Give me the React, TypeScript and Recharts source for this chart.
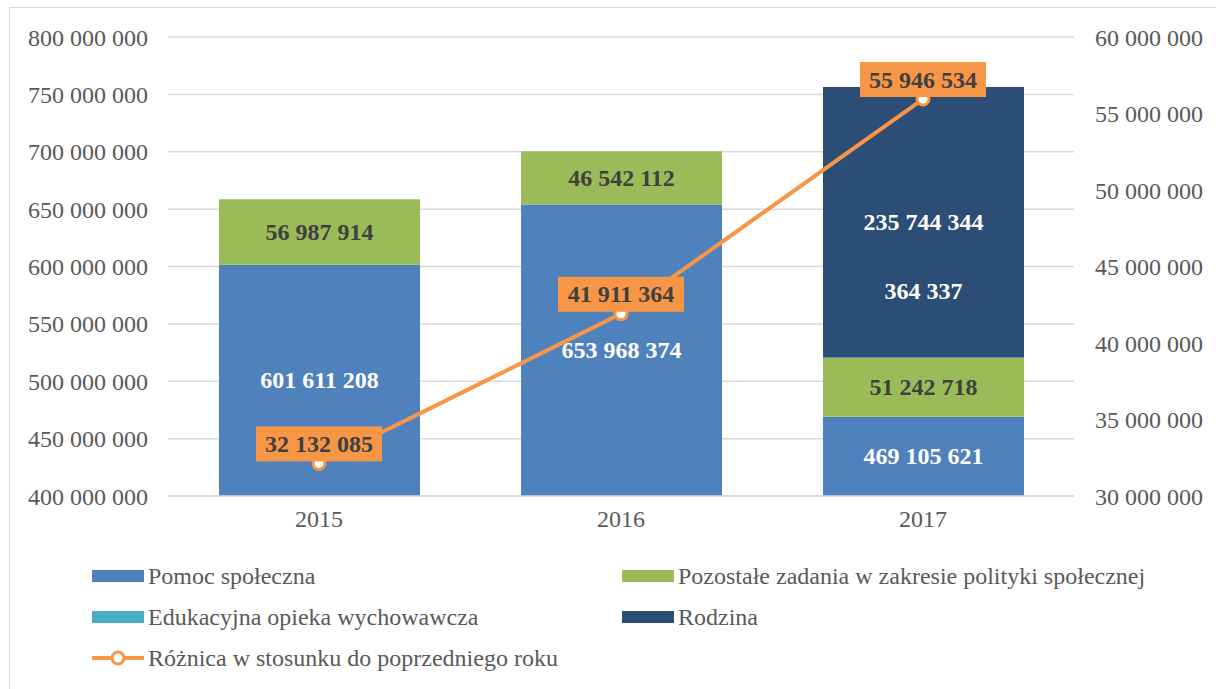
import { ComposedChart, Bar, Line, XAxis, YAxis, CartesianGrid, LabelList } from 'recharts';

const lata = ['2015', '2016', '2017'];
const pomocSpoleczna = [601611208, 653968374, 469105621];
const pozostaleZadania = [56987914, 46542112, 51242718];
const edukacyjnaOpieka = [0, 0, 364337];
const rodzina = [0, 0, 235744344];
const roznica = [32132085, 41911364, 55946534];

const lewaOs = [400000000, 450000000, 500000000, 550000000, 600000000, 650000000, 700000000, 750000000, 800000000];
const prawaOs = [30000000, 35000000, 40000000, 45000000, 50000000, 55000000, 60000000];

const dane = lata.map((rok, i) => ({
  rok,
  pomoc: pomocSpoleczna[i],
  pozostale: pozostaleZadania[i],
  edukacyjna: edukacyjnaOpieka[i],
  rodzina: rodzina[i],
  roznica: roznica[i],
}));

const FONT = '"Liberation Serif", "Times New Roman", serif';
const PLOT_BOTTOM = 496;

const fmt = (v: number) => String(Math.round(v)).replace(/\B(?=(\d{3})+(?!\d))/g, ' ');

// etykieta w środku widocznej części słupka
const barLabel = (color: string) => (props: unknown) => {
  const { x, y, width, height, value } = props as { x: number; y: number; width: number; height: number; value: number };
  if (!value || Number(value) < 1000000) return null;
  const bottom = Math.min(y + height, PLOT_BOTTOM);
  const cy = (y + bottom) / 2;
  return (
    <text x={x + width / 2} y={cy} fill={color} textAnchor="middle" dominantBaseline="central"
      fontSize={24} fontWeight="bold" fontFamily={FONT}>
      {fmt(value)}
    </text>
  );
};

// Rodzina + mała wartość edukacyjnej opieki pod spodem
const rodzinaLabel = (props: unknown) => {
  const { x, y, width, height, value } = props as { x: number; y: number; width: number; height: number; value: number };
  if (!value) return null;
  const cy = Number(y) + Number(height) / 2;
  const cx = Number(x) + Number(width) / 2;
  const idx = rodzina.indexOf(Number(value));
  const edu = idx >= 0 ? edukacyjnaOpieka[idx] : 0;
  return (
    <g>
      <text x={cx} y={cy} fill="#fff" textAnchor="middle" dominantBaseline="central"
        fontSize={24} fontWeight="bold" fontFamily={FONT}>
        {fmt(value)}
      </text>
      {edu > 0 && (
        <text x={cx} y={cy + 69} fill="#fff" textAnchor="middle" dominantBaseline="central"
          fontSize={24} fontWeight="bold" fontFamily={FONT}>
          {fmt(edu)}
        </text>
      )}
    </g>
  );
};

const lineLabel = (props: unknown) => {
  const { x, y, value } = props as { x: number; y: number; value: number };
  const w = 126;
  const h = 35;
  return (
    <g>
      <rect x={x - w / 2} y={y - h - 2} width={w} height={h} fill="#F79646" />
      <text x={x} y={y - h / 2 - 2} fill="#404040" textAnchor="middle" dominantBaseline="central"
        fontSize={24} fontWeight="bold" fontFamily={FONT}>
        {fmt(value)}
      </text>
    </g>
  );
};

const legenda = [
  { name: 'Pomoc społeczna', color: '#4F81BD', x: 92, y: 576, type: 'rect' },
  { name: 'Pozostałe zadania w zakresie polityki społecznej', color: '#9BBB59', x: 622, y: 576, type: 'rect' },
  { name: 'Edukacyjna opieka wychowawcza', color: '#4BACC6', x: 92, y: 617, type: 'rect' },
  { name: 'Rodzina', color: '#2C4D75', x: 622, y: 617, type: 'rect' },
  { name: 'Różnica w stosunku do poprzedniego roku', color: '#F79646', x: 92, y: 658, type: 'line' },
];

export default function App() {
  const tick = { fill: '#595959', fontSize: 24, fontFamily: FONT };
  return (
    <div style={{ position: 'absolute', left: 0, top: 0, width: 1216, height: 689, background: '#fff', overflow: 'hidden' }}>
      <div style={{ position: 'absolute', left: 9, top: 7, width: 1300, height: 800, border: '1px solid #D9D9D9' }} />
      <div style={{ position: 'absolute', left: 0, top: 0 }}>
        <ComposedChart width={1216} height={540} data={dane} margin={{ top: 37, right: 0, left: 0, bottom: 0 }}>
          <CartesianGrid vertical={false} stroke="#D9D9D9" strokeWidth={1.5} yAxisId="left" />
          <XAxis dataKey="rok" height={44} axisLine={{ stroke: '#D9D9D9', strokeWidth: 1.5 }} tickLine={false}
            tick={tick} tickMargin={8} />
          <YAxis yAxisId="left" width={168} domain={[400000000, 800000000]} ticks={lewaOs} allowDataOverflow
            axisLine={false} tickLine={false} tickMargin={14} tick={tick} tickFormatter={fmt} interval={0} />
          <YAxis yAxisId="right" orientation="right" width={142} domain={[30000000, 60000000]} ticks={prawaOs}
            allowDataOverflow axisLine={false} tickLine={false} tickMargin={15} tick={{ ...tick, textAnchor: 'start' }}
            tickFormatter={fmt} interval={0} />
          <Bar yAxisId="left" dataKey="pomoc" name="Pomoc społeczna" stackId="a" fill="#4F81BD" barSize={201} isAnimationActive={false}>
            <LabelList dataKey="pomoc" content={barLabel('#FFFFFF')} />
          </Bar>
          <Bar yAxisId="left" dataKey="pozostale" name="Pozostałe zadania w zakresie polityki społecznej" stackId="a" fill="#9BBB59" barSize={201} isAnimationActive={false}>
            <LabelList dataKey="pozostale" content={barLabel('#404040')} />
          </Bar>
          <Bar yAxisId="left" dataKey="edukacyjna" name="Edukacyjna opieka wychowawcza" stackId="a" fill="#4BACC6" barSize={201} isAnimationActive={false} />
          <Bar yAxisId="left" dataKey="rodzina" name="Rodzina" stackId="a" fill="#2C4D75" barSize={201} isAnimationActive={false}>
            <LabelList dataKey="rodzina" content={rodzinaLabel} />
          </Bar>
          <Line yAxisId="right" dataKey="roznica" name="Różnica w stosunku do poprzedniego roku" stroke="#F79646" strokeWidth={4}
            dot={{ r: 6, fill: '#fff', stroke: '#F79646', strokeWidth: 3 }} isAnimationActive={false}>
            <LabelList dataKey="roznica" content={lineLabel} />
          </Line>
        </ComposedChart>
      </div>
      {legenda.map((l) => (
        <div key={l.name} style={{ position: 'absolute', left: l.x, top: l.y - 15, height: 30, display: 'flex', alignItems: 'center' }}>
          {l.type === 'rect' ? (
            <div style={{ width: 52, height: 12, background: l.color }} />
          ) : (
            <svg width={52} height={16}>
              <line x1={0} y1={8} x2={52} y2={8} stroke={l.color} strokeWidth={4} />
              <circle cx={26} cy={8} r={6} fill="#fff" stroke={l.color} strokeWidth={3} />
            </svg>
          )}
          <span style={{ marginLeft: 4, fontFamily: FONT, fontSize: 24, color: '#595959', whiteSpace: 'nowrap' }}>{l.name}</span>
        </div>
      ))}
    </div>
  );
}
